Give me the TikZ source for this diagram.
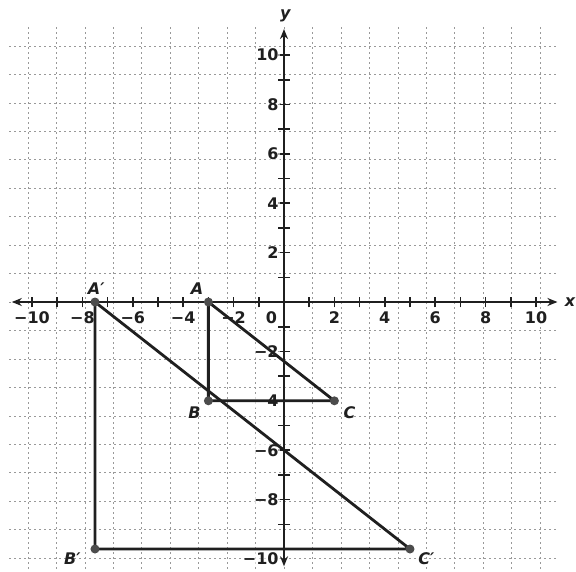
\documentclass[tikz,border=0pt]{standalone}
\usepackage{fontspec}
\setsansfont{DejaVu Sans}
\usetikzlibrary{arrows.meta}

\begin{document}
\begin{tikzpicture}[x=25.2pt, y=24.7pt, line width=2.8pt, black!88,
  dot/.style={circle, fill=black!70, inner sep=0pt, minimum size=9pt},
  ptlabel/.style={font=\sffamily\bfseries\itshape\fontsize{16}{16}\selectfont, inner sep=1pt},
  num/.style={font=\sffamily\bfseries\fontsize{16}{16}\selectfont, inner sep=1pt, fill=white, fill opacity=0.6, text opacity=1}]
  \useasboundingbox (-284pt,-269pt) rectangle (292pt,302pt);

  % 网格
  \draw[black!40, line width=0.6pt, dash pattern=on 2pt off 3pt] (-10.9,-10.8) grid (10.9,11.2);

  % 坐标轴
  \coordinate (xl) at (-10.8,0);
  \coordinate (xr) at (10.85,0);
  \coordinate (yt) at (0,11.05);
  \coordinate (yb) at (0,-10.7);
  \draw[{Stealth[length=10pt,width=8pt]}-{Stealth[length=10pt,width=8pt]}] (xl) -- (xr);
  \draw[{Stealth[length=10pt,width=8pt]}-{Stealth[length=10pt,width=8pt]}] (yb) -- (yt);
  \node[ptlabel] (xlab) at (11.35,0) {x};
  \node[ptlabel] (ylab) at (0.05,11.6) {y};

  % 刻度
  \foreach \i in {-10,...,10} {
    \draw[line width=1.6pt] (\i,-0.22) -- (\i,0.22);
    \draw[line width=1.6pt] (-0.22,\i) -- (0.22,\i);
  }
  \foreach \i/\t in {-10/−10,-8/−8,-6/−6,-4/−4,-2/−2,2/2,4/4,6/6,8/8,10/10}
    \node[num] (nx\i) at (\i,-0.65) {\t};
  \node[num] (n0) at (-0.5,-0.65) {0};
  \foreach \i/\t in {10/10,8/8,6/6,4/4,2/2,-2/−2,-4/−4,-6/−6,-8/−8}
    \node[num, anchor=east] (ny\i) at (-0.12,\i) {\t};
  \node[num, anchor=east] (ny-10) at (-0.12,-10.4) {−10};

  \coordinate (A) at (-3,0);
  \coordinate (B) at (-3,-4);
  \coordinate (C) at (2,-4);
  \coordinate (A') at (-7.5,0);    % 位似中心为原点，k = 2.5
  \coordinate (B') at (-7.5,-10);
  \coordinate (C') at (5,-10);

  % 三角形 ABC 与 A'B'C'
  \draw (A) -- (B) -- (C) -- cycle;
  \draw (A') -- (B') -- (C') -- cycle;

  \foreach \p in {A,B,C,A',B',C'}
    \node[dot] at (\p) {};

  \node[ptlabel] (lA') at (-7.45,0.55) {A′};
  \node[ptlabel] (lA) at (-3.45,0.55) {A};
  \node[ptlabel] (lB) at (-3.55,-4.5) {B};
  \node[ptlabel] (lC) at (2.6,-4.5) {C};
  \node[ptlabel] (lB') at (-8.4,-10.4) {B′};
  \node[ptlabel] (lC') at (5.65,-10.4) {C′};
\end{tikzpicture}
\end{document}
